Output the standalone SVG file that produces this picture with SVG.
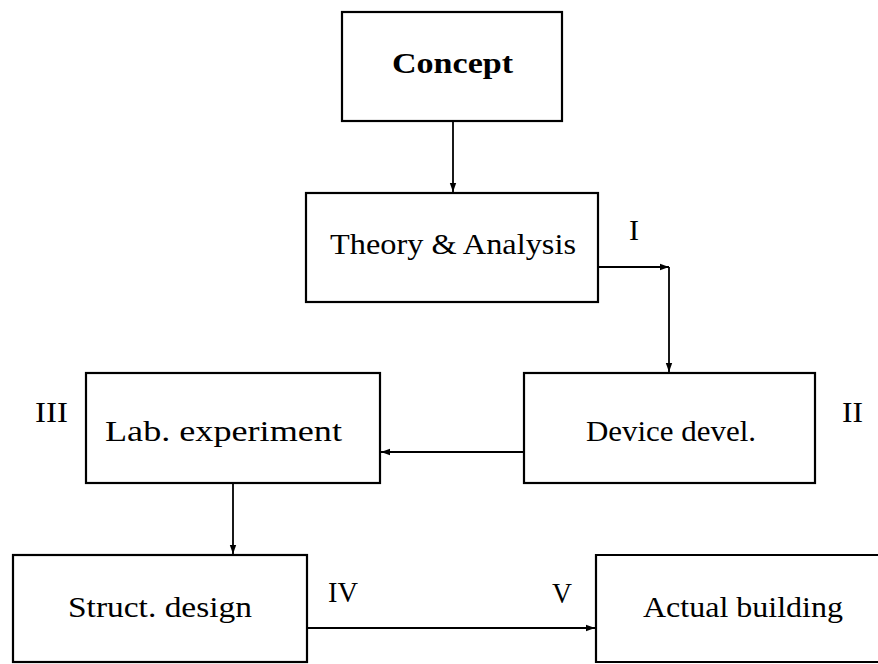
<svg xmlns="http://www.w3.org/2000/svg" width="878" height="664" viewBox="0 0 878 664">
<style>
.box{fill:#fff;stroke:#000;stroke-width:2.2}
.t{font-family:"Liberation Serif","DejaVu Serif",serif;font-size:30px;fill:#000}
.b{font-weight:bold}
.c{fill:none;stroke:#000;stroke-width:1.8}
</style>
<defs>
<marker id="ah" markerUnits="userSpaceOnUse" markerWidth="10" markerHeight="8" refX="9" refY="4" orient="auto">
<path d="M0,0.8 L9,4 L0,7.2 Z" fill="#000"/>
</marker>
</defs>
<rect width="878" height="664" fill="#fff"/>
<g id="connectors">
<path class="c" d="M453,121 V192" marker-end="url(#ah)"/>
<path class="c" d="M598,267 H669" marker-end="url(#ah)"/>
<path class="c" d="M669,267 V372" marker-end="url(#ah)"/>
<path class="c" d="M524,452 H381" marker-end="url(#ah)"/>
<path class="c" d="M233,483 V554" marker-end="url(#ah)"/>
<path class="c" d="M307,628 H595" marker-end="url(#ah)"/>
</g>
<g id="concept">
<rect class="box" x="342" y="12" width="220" height="109"/>
<text class="t b" x="392" y="73" font-size="29" textLength="121" lengthAdjust="spacingAndGlyphs">Concept</text>
</g>
<g id="theory">
<rect class="box" x="306" y="193" width="292" height="109"/>
<text class="t" x="330" y="254" textLength="246" lengthAdjust="spacingAndGlyphs">Theory &amp; Analysis</text>
</g>
<g id="device">
<rect class="box" x="524" y="373" width="291" height="110"/>
<text class="t" x="586" y="441" textLength="170" lengthAdjust="spacingAndGlyphs">Device devel.</text>
</g>
<g id="lab">
<rect class="box" x="86" y="373" width="294" height="110"/>
<text class="t" x="105" y="441" textLength="237" lengthAdjust="spacingAndGlyphs">Lab. experiment</text>
</g>
<g id="struct">
<rect class="box" x="13" y="555" width="294" height="107"/>
<text class="t" x="68" y="617" textLength="184" lengthAdjust="spacingAndGlyphs">Struct. design</text>
</g>
<g id="actual">
<path class="box" d="M880,555 H596 V662 H880"/>
<text class="t" x="643" y="617" textLength="200" lengthAdjust="spacingAndGlyphs">Actual building</text>
</g>
<g id="labels">
<text class="t" x="629" y="240">I</text>
<text class="t" x="842" y="422" textLength="21" lengthAdjust="spacingAndGlyphs">II</text>
<text class="t" x="35" y="422" textLength="33" lengthAdjust="spacingAndGlyphs">III</text>
<text class="t" x="328" y="602" textLength="30" lengthAdjust="spacingAndGlyphs">IV</text>
<text class="t" x="552" y="603" textLength="20" lengthAdjust="spacingAndGlyphs">V</text>
</g>
</svg>
